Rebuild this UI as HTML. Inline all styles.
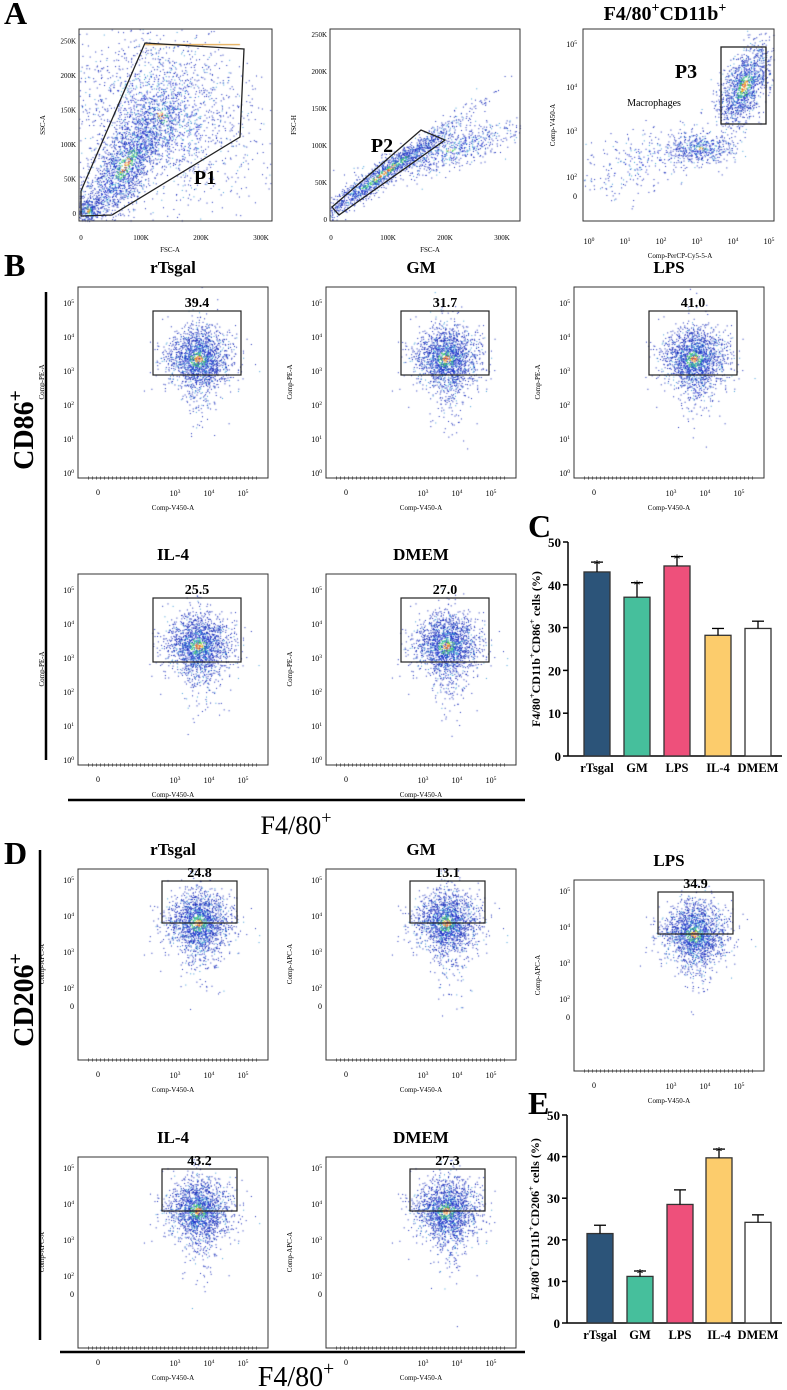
<!DOCTYPE html>
<html><head><meta charset="utf-8"><style>
body{margin:0;background:#fff;}
#wrap{position:relative;width:787px;height:1390px;overflow:hidden;font-family:"Liberation Serif",serif;}
canvas,svg{position:absolute;left:0;top:0;}
</style></head><body>
<div id="wrap">
<canvas id="cv" width="787" height="1390"></canvas>
<svg id="sv" width="787" height="1390" xmlns="http://www.w3.org/2000/svg"></svg>
</div>
<script>
// ---- bar chart data ----
const cats = ["rTsgal","GM","LPS","IL-4","DMEM"];
const valsC = [43.0,37.1,44.4,28.2,29.8];
const errC  = [45.3,40.5,46.6,29.8,31.5];
const starC = [true,true,true,false,false];
const valsE = [21.5,11.2,28.5,39.7,24.2];
const errE  = [23.5,12.5,32.0,41.8,26.0];
const starE = [false,true,false,true,false];
const yTicks = [0,10,20,30,40,50];
const barColors = ["#2c5479","#46bf9c","#ee507b","#fccc6c","#ffffff"];
// ---- flow panel labels ----
const gateValsB = ["39.4","31.7","41.0","25.5","27.0"];
const gateValsD = ["24.8","13.1","34.9","43.2","27.3"];

const NS="http://www.w3.org/2000/svg";
const sv=document.getElementById('sv');
const ctx=document.getElementById('cv').getContext('2d');
function el(tag,attrs,parent,text){const e=document.createElementNS(NS,tag);for(const k in attrs)e.setAttribute(k,attrs[k]);if(text!==undefined)e.textContent=text;(parent||sv).appendChild(e);return e;}
function txt(x,y,s,size,opts,name){opts=opts||{};const t=el('text',Object.assign({x:x,y:y,'font-size':size,'font-family':'"Liberation Serif",serif','text-anchor':opts.anchor||'middle','font-weight':opts.bold?'bold':'normal',fill:'#000'},opts.transform?{transform:opts.transform}:{}),sv,s);


return t;}
function sup(x,y,base,exp,size,opts,name){opts=opts||{};const t=el('text',{x:x,y:y,'font-size':size,'font-family':'"Liberation Serif",serif','text-anchor':opts.anchor||'middle','font-weight':opts.bold?'bold':'normal'});


if(opts.transform)t.setAttribute('transform',opts.transform);
const parts=Array.isArray(base)?base:[[base,exp]];
parts.forEach(p=>{el('tspan',{},t,p[0]);if(p[1]){el('tspan',{dy:-size*0.4,'font-size':size*0.7},t,p[1]);el('tspan',{dy:size*0.4,'font-size':size},t,'\u200b');}});
return t;}

let seed=12345;function rnd(){seed=(seed*1103515245+12345)&0x7fffffff;return seed/0x7fffffff;}
function gauss(){let u=rnd()||1e-6,v=rnd();return Math.sqrt(-2*Math.log(u))*Math.cos(2*Math.PI*v);}
function cloud(cx,cy,sx,sy,n,rot,clip,hot){rot=rot||0;hot=hot===undefined?1:hot;const c=Math.cos(rot),s=Math.sin(rot);
for(let i=0;i<n;i++){const a=gauss(),b=gauss();const r=Math.sqrt(a*a+b*b);
const x=cx+a*sx*c-b*sy*s, y=cy+a*sx*s+b*sy*c;
if(clip&&(x<clip[0]||x>clip[2]||y<clip[1]||y>clip[3]))continue;
let col;
if(r<0.28*hot)col=rnd()<0.5?'#e0502a':'#e8c020';
else if(r<0.6*hot)col=rnd()<0.5?'#38c850':(rnd()<0.5?'#20b0c8':'#1a30c8');
else if(r<1.0)col=rnd()<0.25?'#30a8d0':'#1a2cc8';
else col=rnd()<0.15?'#3a9ad8':'#1428b8';
ctx.fillStyle=col;ctx.fillRect(x,y,1,1);}}

[['A',4,24],['B',4,276],['C',528,537],['D',4,864],['E',528,1114]].forEach(p=>{txt(p[1],p[2],p[0],32,{anchor:'start',bold:true},'panel-letter-'+p[0].toLowerCase());});

function box(x,y,w,h,name){const r=el('rect',{x:x,y:y,width:w,height:h,fill:'none',stroke:'#333','stroke-width':1});return r;}

// ---- Panel A ----
const A1=[79,29,193,192],A2=[330,29,190,192],A3=[583,29,191,192];
box(...A1,'plot-a1');box(...A2,'plot-a2');box(...A3,'plot-a3');
['0','50K','100K','150K','200K','250K'].forEach((t,i)=>txt(A1[0]-3,216-i*34.5,t,7,{anchor:'end'},'a1-ytick'));
['0','100K','200K','300K'].forEach((t,i)=>txt(81+i*60,240,t,7,{},'a1-xtick'));
txt(170,252,'FSC-A',7,{},'a1-xlabel');txt(0,0,'SSC-A',7,{transform:'translate(45,125) rotate(-90)'},'a1-ylabel');
['0','50K','100K','150K','200K','250K'].forEach((t,i)=>txt(A2[0]-3,222-i*37,t,7,{anchor:'end'},'a2-ytick'));
['0','100K','200K','300K'].forEach((t,i)=>txt(331+i*57,240,t,7,{},'a2-xtick'));
txt(430,252,'FSC-A',7,{},'a2-xlabel');txt(0,0,'FSC-H',7,{transform:'translate(296,125) rotate(-90)'},'a2-ylabel');
[['0',''],['10','2'],['10','3'],['10','4'],['10','5']].forEach((t,i)=>{const ys=[199,180,134,90,47];sup(A3[0]-6,ys[i],t[0],t[1],8,{anchor:'end'},'a3-ytick');});
for(let i=0;i<6;i++)sup(589+i*36,244,'10',String(i),8,{},'a3-xtick');
txt(680,258,'Comp-PerCP-Cy5-5-A',7,{},'a3-xlabel');txt(0,0,'Comp-V450-A',7,{transform:'translate(555,125) rotate(-90)'},'a3-ylabel');
const g1=el('polygon',{points:'81,191 145,43 244,49 240,137 112,215 81,216',fill:'none',stroke:'#222','stroke-width':1.3});
const g2=el('polygon',{points:'332,207 421,130 445,140 339,215',fill:'none',stroke:'#222','stroke-width':1.3});
const g3=el('rect',{x:721,y:47,width:45,height:77,fill:'none',stroke:'#222','stroke-width':1.3});
txt(205,184,'P1',20,{bold:true},'gate-p1-label');txt(382,152,'P2',20,{bold:true},'gate-p2-label');txt(686,78,'P3',20,{bold:true},'gate-p3-label');
txt(654,106,'Macrophages',10,{},'macrophages-label');
sup(665,20,[['F4/80','+'],['CD11b','+']],null,20,{bold:true},'a3-title');
const cA1=[A1[0],A1[1],A1[0]+A1[2],A1[1]+A1[3]],cA2=[A2[0],A2[1],A2[0]+A2[2],A2[1]+A2[3]],cA3=[A3[0],A3[1],A3[0]+A3[2],A3[1]+A3[3]];
cloud(125,165,42,13,2200,-0.98,cA1,0.8);
cloud(160,115,38,50,2000,-0.9,cA1,0.3);
cloud(88,210,6,6,200,0,cA1,1);
ctx.fillStyle='#e0a040';ctx.fillRect(145,44,95,1.2);
cloud(385,172,48,5,1600,-0.62,cA2,1);
cloud(450,150,38,9,700,-0.3,cA2,0.3);
cloud(744,86,22,10,1300,-1.15,cA3,1);
cloud(700,148,18,8,500,0,cA3,0.5);
cloud(645,160,35,14,300,-0.3,cA3,0.1);

// ---- flow panels B & D ----
function flow(px,py,title,val,kind,idx){
 const w=190,h=191;box(px,py,w,h,kind+'-plot-'+title.toLowerCase());
 txt(px+w/2,py-14,title,17,{bold:true},kind+'-title-'+title.toLowerCase());
 let gx,gy,gw,gh;
 if(kind==='b'){gx=px+75;gy=py+24;gw=88;gh=64;}else{gx=px+84;gy=py+12;gw=75;gh=42;}
 const g=el('rect',{x:gx,y:gy,width:gw,height:gh,fill:'none',stroke:'#222','stroke-width':1.2});
 
 txt(gx+gw/2,gy-4,val,14,{bold:true},kind+'-gate-value');
 const cx=px+120, cy=kind==='b'?py+72:py+54;
 cloud(cx,cy,16,15,1500,0,[px,py,px+w,py+h],0.9);
 cloud(cx+3,cy+8,9,28,300,0,[px,py,px+w,py+h],0);
 if(kind==='b'){for(let i=0;i<6;i++)sup(px-4,py+189-i*34,'10',String(i),8,{anchor:'end'},'b-ytick');txt(0,0,'Comp-PE-A',7,{transform:`translate(${px-34},${py+95}) rotate(-90)`},'b-ylabel');}
 else{sup(px-4,py+140,'0','',8,{anchor:'end'},'d-ytick');[['10','2'],['10','3'],['10','4'],['10','5']].forEach((t,i)=>sup(px-4,py+122-i*36,t[0],t[1],8,{anchor:'end'},'d-ytick'));txt(0,0,'Comp-APC-A',7,{transform:`translate(${px-34},${py+95}) rotate(-90)`},'d-ylabel');}
 txt(px+20,py+h+17,'0',8,{},'xtick');
 ['3','4','5'].forEach((e,i)=>sup(px+97+i*34,py+h+18,'10',e,8,{},'xtick'));
 txt(px+95,py+h+32,'Comp-V450-A',7,{},'x-axis-label');
 const tk=el('line',{x1:px+10,y1:py+h,x2:px+w-10,y2:py+h,stroke:'#555','stroke-width':3,'stroke-dasharray':'1 3'});
}
const titles=['rTsgal','GM','LPS','IL-4','DMEM'];
const posB=[[78,287],[326,287],[574,287],[78,574],[326,574]];
const posD=[[78,869],[326,869],[574,880],[78,1157],[326,1157]];
titles.forEach((t,i)=>flow(posB[i][0],posB[i][1],t,gateValsB[i],'b',i));
titles.forEach((t,i)=>flow(posD[i][0],posD[i][1],t,gateValsD[i],'d',i));

function line(x1,y1,x2,y2,w,name){const l=el('line',{x1:x1,y1:y1,x2:x2,y2:y2,stroke:'#000','stroke-width':w});}
line(46,292,46,760,2.5,'cd86-bracket');line(68,800,525,800,2.5,'f480-bracket-b');
line(40,850,40,1340,2.5,'cd206-bracket');line(60,1352,525,1352,2.5,'f480-bracket-d');
sup(0,0,'CD86','+',28,{bold:true,transform:'translate(33,430) rotate(-90)'},'cd86-label');
sup(0,0,'CD206','+',28,{bold:true,transform:'translate(33,1000) rotate(-90)'},'cd206-label');
sup(296,834,'F4/80','+',26,{},'f480-label-b');
sup(296,1386,'F4/80','+',28,{},'f480-label-d');

function barChart(ax,ybot,ytop,centers,vals,errs,stars,prefix,ylabelParts){
 const ys=v=>ybot-(v/50)*(ybot-ytop);
 line(ax,ytop,ax,ybot,1.5,prefix+'-y-axis');line(ax,ybot,782,ybot,1.5,prefix+'-x-axis');
 yTicks.forEach(t=>{line(ax-5,ys(t),ax,ys(t),1.5,prefix+'-ytick-mark');txt(ax-7,ys(t)+5,String(t),13,{anchor:'end',bold:true},prefix+'-ytick-label');});
 cats.forEach((c,i)=>{const cx=centers[i],bw=26;
  const r=el('rect',{x:cx-bw/2,y:ys(vals[i]),width:bw,height:ybot-ys(vals[i]),fill:barColors[i],stroke:'#333','stroke-width':1.3});
  
  line(cx,ys(vals[i]),cx,ys(errs[i]),1.3,prefix+'-error-bar');line(cx-6,ys(errs[i]),cx+6,ys(errs[i]),1.3,prefix+'-error-cap');
  if(stars[i])txt(cx,ys(errs[i])+7,'*',14,{},prefix+'-significance');
  txt(cx,ybot+16,c,12.5,{bold:true},prefix+'-category-label');});
 sup(0,0,ylabelParts,null,12,{bold:true,transform:`translate(${ax-28},${(ybot+ytop)/2}) rotate(-90)`},prefix+'-y-axis-title');
}
barChart(568,756,542,[597,637,677,718,758],valsC,errC,starC,'c',[['F4/80','+'],['CD11b','+'],['CD86','+'],[' cells (%)','']]);
barChart(567,1323,1115,[600,640,680,719,758],valsE,errE,starE,'e',[['F4/80','+'],['CD11b','+'],['CD206','+'],[' cells (%)','']]);
</script>
</body></html>
